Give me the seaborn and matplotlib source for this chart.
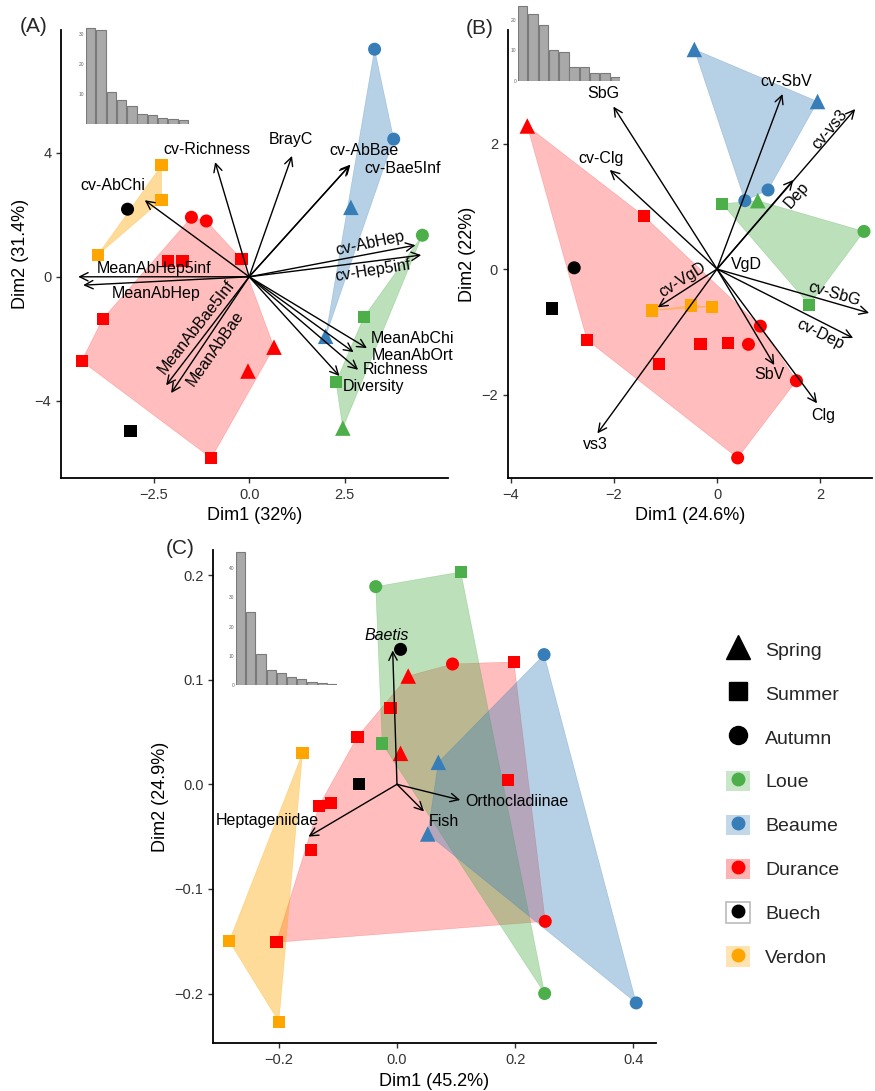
import numpy as np
import pandas as pd
import matplotlib
matplotlib.use("Agg")
import matplotlib.pyplot as plt
import seaborn as sns
from matplotlib.lines import Line2D
from matplotlib.patches import Patch
from matplotlib.colors import to_rgba

sns.set_theme(style="ticks")
plt.rcParams['font.family'] = ['Liberation Sans', 'DejaVu Sans']

# ---------------- data ----------------
sites = ['Loue', 'Beaume', 'Durance', 'Buech', 'Verdon']
seasons = ['Spring', 'Summer', 'Autumn']

# panel A
a_x = [3.28, 3.78, 2.66, 2.0,
       4.53, 3.0, 2.27, 2.45,
       -2.29, -2.29, -3.96,
       -3.18, -3.1,
       -1.51, -1.12, -2.13, -1.74, -0.2, -3.83, -4.38, -0.99, 0.65, -0.03]
a_y = [7.34, 4.44, 2.24, -1.92,
       1.34, -1.3, -3.4, -4.88,
       3.6, 2.47, 0.7,
       2.18, -4.98,
       1.92, 1.8, 0.5, 0.5, 0.57, -1.36, -2.72, -5.85, -2.27, -3.04]
a_site = ['Beaume'] * 4 + ['Loue'] * 4 + ['Verdon'] * 3 + ['Buech'] * 2 + ['Durance'] * 10
a_season = ['Autumn', 'Autumn', 'Spring', 'Spring',
            'Autumn', 'Summer', 'Summer', 'Spring',
            'Summer', 'Summer', 'Summer',
            'Autumn', 'Summer',
            'Autumn', 'Autumn', 'Summer', 'Summer', 'Summer', 'Summer', 'Summer', 'Summer',
            'Spring', 'Spring']
a_vars = ['cv-Richness', 'BrayC', 'cv-AbBae', 'cv-Bae5Inf', 'cv-AbChi', 'cv-AbHep',
          'cv-Hep5inf', 'MeanAbHep5inf', 'MeanAbHep', 'MeanAbBae5Inf', 'MeanAbBae',
          'MeanAbChi', 'MeanAbOrt', 'Richness', 'Diversity']
a_var_x = [-0.89, 1.12, 2.65, 2.62, -2.73, 4.35, 4.5, -4.47, -4.34, -2.17, -2.04,
           3.08, 2.73, 2.85, 2.36]
a_var_y = [3.7, 3.9, 3.62, 3.58, 2.47, 1.02, 0.7, 0.0, -0.27, -3.5, -3.75,
           -2.3, -2.43, -3.0, -3.2]
a_eig = [32.0, 31.4, 10.8, 8.0, 6.1, 3.2, 2.9, 1.9, 1.6, 1.2]

# panel B
b_x = [-0.44, 1.95, 0.54, 0.99,
       0.1, 0.79, 2.85, 1.79,
       -3.68, -1.41, -2.52, -0.32, 0.21, -1.12, 0.84, 0.61, 1.54, 0.4,
       -2.77, -3.2,
       -1.26, -0.5, -0.1]
b_y = [3.5, 2.67, 1.09, 1.26,
       1.04, 1.09, 0.6, -0.57,
       2.28, 0.84, -1.13, -1.19, -1.18, -1.51, -0.91, -1.2, -1.78, -3.01,
       0.02, -0.63,
       -0.66, -0.58, -0.6]
b_site = ['Beaume'] * 4 + ['Loue'] * 4 + ['Durance'] * 10 + ['Buech'] * 2 + ['Verdon'] * 3
b_season = ['Spring', 'Spring', 'Autumn', 'Autumn',
            'Summer', 'Spring', 'Autumn', 'Summer',
            'Spring', 'Summer', 'Summer', 'Summer', 'Summer', 'Summer',
            'Autumn', 'Autumn', 'Autumn', 'Autumn',
            'Autumn', 'Summer',
            'Summer', 'Summer', 'Summer']
b_vars = ['SbG', 'cv-Clg', 'cv-SbV', 'cv-vs3', 'Dep', 'cv-VgD', 'VgD', 'cv-SbG',
          'cv-Dep', 'SbV', 'Clg', 'vs3']
b_var_x = [-2.01, -2.08, 1.27, 2.68, 1.48, -1.15, 0.03, 2.95, 2.64, 1.11, 1.94, -2.32]
b_var_y = [2.59, 1.58, 2.79, 2.55, 1.42, -0.61, 0.01, -0.7, -1.1, -1.53, -2.14, -2.62]
b_eig = [24.6, 22.0, 18.4, 10.2, 9.6, 4.7, 4.6, 2.7, 2.5, 1.2]

# panel C
c_x = [-0.036, 0.108, -0.025, 0.25,
       0.249, 0.07, 0.052, 0.405,
       0.094, 0.198, 0.019, -0.011, -0.067, 0.006, 0.188, -0.132, -0.112, -0.145,
       -0.204, 0.251,
       0.006, -0.064,
       -0.16, -0.284, -0.2]
c_y = [0.189, 0.203, 0.039, -0.2,
       0.124, 0.021, -0.0475, -0.209,
       0.115, 0.117, 0.1035, 0.073, 0.0455, 0.0296, 0.004, -0.0205, -0.018, -0.063,
       -0.151, -0.131,
       0.129, 0.0,
       0.0296, -0.15, -0.227]
c_site = ['Loue'] * 4 + ['Beaume'] * 4 + ['Durance'] * 12 + ['Buech'] * 2 + ['Verdon'] * 3
c_season = ['Autumn', 'Summer', 'Summer', 'Autumn',
            'Autumn', 'Spring', 'Spring', 'Autumn',
            'Autumn', 'Summer', 'Spring', 'Summer', 'Summer', 'Spring', 'Summer',
            'Summer', 'Summer', 'Summer', 'Summer', 'Autumn',
            'Autumn', 'Summer',
            'Summer', 'Summer', 'Summer']
c_vars = ['Baetis', 'Orthocladiinae', 'Fish', 'Heptageniidae']
c_var_x = [-0.0073, 0.107, 0.0458, -0.15]
c_var_y = [0.128, -0.015, -0.026, -0.05]
c_eig = [45.2, 24.9, 10.6, 5.2, 4.1, 2.8, 2.0, 1.2, 0.9, 0.5]

# ---------------- styles / layout ----------------
site_colors = {'Loue': '#4DAF4A', 'Beaume': '#377EB8', 'Durance': '#FF0000',
               'Buech': '#000000', 'Verdon': '#FFA500'}
hull_alpha = {'Loue': 0.38, 'Beaume': 0.36, 'Durance': 0.26, 'Verdon': 0.4}
season_markers = {'Spring': '^', 'Summer': 's', 'Autumn': 'o'}
season_sizes = {'Spring': 125, 'Summer': 78, 'Autumn': 88}
hull_order = ['Durance', 'Loue', 'Beaume', 'Verdon']

# label offsets from arrow tips (pixels) and rotation
a_lab = {'cv-Richness': (-8, 13, 0), 'BrayC': (-1, 16, 0), 'cv-AbBae': (14, 14, 0),
         'cv-Bae5Inf': (53, -3, 0), 'cv-AbChi': (-32, 15, 0), 'cv-AbHep': (-45, 2, 12),
         'cv-Hep5inf': (-48, -16, 9), 'MeanAbHep5inf': (76, 8, 0), 'MeanAbHep': (73, -8, 0),
         'MeanAbBae5Inf': (30, 58, 52), 'MeanAbBae': (44, 45, 55), 'MeanAbChi': (46, 10, 0),
         'MeanAbOrt': (59, -3, 0), 'Richness': (37, 0, 0), 'Diversity': (34, -11, 0)}
b_lab = {'SbG': (-10, 13, 0), 'cv-Clg': (-9, 11, 0), 'cv-SbV': (4, 12, 0),
         'cv-vs3': (-25, -20, 50), 'Dep': (3, -15, 49), 'cv-VgD': (25, 28, 32),
         'VgD': (28, 4, 0), 'cv-SbG': (-35, 19, -16), 'cv-Dep': (-33, 4, -26),
         'SbV': (-5, -9, 0), 'Clg': (6, -12, 0), 'vs3': (-2, -11, 0)}
c_lab = {'Baetis': (-6, 15, 0), 'Orthocladiinae': (57, -2, 0), 'Fish': (20, -10, 0),
         'Heptageniidae': (-41, 16, 0)}

W, H = 875, 1091


def rect(l, t, w, h):
    return [l / W, 1 - (t + h) / H, w / W, h / H]


def convex_hull(pts):
    pts = sorted(set(pts))
    if len(pts) < 3:
        return pts

    def cross(o, a, b):
        return (a[0] - o[0]) * (b[1] - o[1]) - (a[1] - o[1]) * (b[0] - o[0])
    lower, upper = [], []
    for p in pts:
        while len(lower) >= 2 and cross(lower[-2], lower[-1], p) <= 0:
            lower.pop()
        lower.append(p)
    for p in reversed(pts):
        while len(upper) >= 2 and cross(upper[-2], upper[-1], p) <= 0:
            upper.pop()
        upper.append(p)
    return lower[:-1] + upper[:-1]


def biplot(ax, xs, ys, site, season, vars_, vx, vy, labs, italic=()):
    df = pd.DataFrame({'x': xs, 'y': ys, 'site': site, 'season': season})
    for s in hull_order:
        sub = df[df.site == s]
        hull = convex_hull(list(zip(sub.x, sub.y)))
        if len(hull) >= 3:
            hx, hy = zip(*hull)
            fc = to_rgba(site_colors[s], hull_alpha[s])
            ax.fill(hx, hy, facecolor=fc, edgecolor=fc, lw=0.4, zorder=1)
    sns.scatterplot(data=df, x='x', y='y', hue='site', palette=site_colors,
                    style='season', markers=season_markers, size='season',
                    sizes=season_sizes, linewidth=0, legend=False, ax=ax, zorder=3)
    span = ax.get_xlim()[1] - ax.get_xlim()[0]
    for name, tx, ty in zip(vars_, vx, vy):
        if np.hypot(tx, ty) > 0.02 * span:
            ax.annotate('', xy=(tx, ty), xytext=(0, 0),
                        arrowprops=dict(arrowstyle='->,head_length=0.5,head_width=0.25',
                                        lw=1.0, color='black', shrinkA=0, shrinkB=0,
                                        mutation_scale=12), zorder=4)
        dx, dy, rot = labs[name]
        ax.annotate(name, xy=(tx, ty), xytext=(dx, dy), textcoords='offset pixels',
                    ha='center', va='center', rotation=rot, rotation_mode='anchor',
                    fontsize=11.5, color='black', zorder=5,
                    style='italic' if name in italic else 'normal')


def style_axes(ax, xlim, ylim, xticks, yticks, xlabel, ylabel):
    ax.set_xlim(*xlim)
    ax.set_ylim(*ylim)
    ax.set_xticks(xticks)
    ax.set_yticks(yticks)
    ax.set_xlabel(xlabel, fontsize=13, color='black')
    ax.set_ylabel(ylabel, fontsize=13, color='black')
    ax.tick_params(labelsize=10.5, colors='#333333', length=3.5, width=1)
    for sp in ['top', 'right']:
        ax.spines[sp].set_visible(False)
    for sp in ['left', 'bottom']:
        ax.spines[sp].set_linewidth(1.3)
        ax.spines[sp].set_color('black')


def inset(fig, r, eig, ylim, yticks):
    axi = fig.add_axes(r)
    sns.barplot(x=list(range(1, len(eig) + 1)), y=eig, color='#A9A9A9',
                edgecolor='#7A7A7A', linewidth=0.8, saturation=1, width=0.92, ax=axi)
    axi.set_xlim(-0.5, len(eig) - 0.5)
    axi.set_ylim(*ylim)
    axi.set_yticks(yticks)
    axi.set_yticklabels([str(t) for t in yticks])
    axi.set_xticks([])
    axi.set_xlabel('')
    axi.set_ylabel('')
    axi.tick_params(axis='y', labelsize=3.5, colors='#666666', length=0, pad=1)
    axi.patch.set_alpha(0)
    for sp in axi.spines.values():
        sp.set_visible(False)


fig = plt.figure(figsize=(W / 100, H / 100), dpi=100)

axA = fig.add_axes(rect(61, 30, 387, 448))
style_axes(axA, (-4.92, 5.2), (-6.49, 7.96), [-2.5, 0, 2.5], [-4, 0, 4],
           'Dim1 (32%)', 'Dim2 (31.4%)')
axA.set_xticklabels(['\u22122.5', '0.0', '2.5'])
biplot(axA, a_x, a_y, a_site, a_season, a_vars, a_var_x, a_var_y, a_lab)

axB = fig.add_axes(rect(507.7, 30, 364, 448))
style_axes(axB, (-4.06, 3.0), (-3.33, 3.81), [-4, -2, 0, 2], [-2, 0, 2],
           'Dim1 (24.6%)', 'Dim2 (22%)')
biplot(axB, b_x, b_y, b_site, b_season, b_vars, b_var_x, b_var_y, b_lab)

axC = fig.add_axes(rect(213.3, 550, 442.4, 493.3))
style_axes(axC, (-0.311, 0.438), (-0.2476, 0.224), [-0.2, 0.0, 0.2, 0.4],
           [-0.2, -0.1, 0.0, 0.1, 0.2], 'Dim1 (45.2%)', 'Dim2 (24.9%)')
biplot(axC, c_x, c_y, c_site, c_season, c_vars, c_var_x, c_var_y, c_lab,
       italic=('Baetis',))

inset(fig, rect(85.5, 25, 103, 99), a_eig, (0, 33), [10, 20, 30])
inset(fig, rect(517.5, 3.2, 103, 77.8), b_eig, (0, 25.5), [0, 10, 20])
inset(fig, rect(235.5, 548.6, 102, 136.7), c_eig, (0, 46.5), [0, 10, 20, 30, 40])

fig.text(34 / W, 1 - 26 / H, '(A)', fontsize=15, ha='center', va='center')
fig.text(480 / W, 1 - 28 / H, '(B)', fontsize=15, ha='center', va='center')
fig.text(180 / W, 1 - 548 / H, '(C)', fontsize=15, ha='center', va='center')

# legend
handles = [Line2D([], [], marker='^', color='black', linestyle='None', markersize=17),
           Line2D([], [], marker='s', color='black', linestyle='None', markersize=13),
           Line2D([], [], marker='o', color='black', linestyle='None', markersize=13)]
for s in sites:
    if s == 'Buech':
        patch = Patch(facecolor='white', edgecolor='#BBBBBB', linewidth=1.2)
    else:
        patch = Patch(facecolor=to_rgba(site_colors[s], 0.3), edgecolor='none')
    dot = Line2D([], [], marker='o', color=site_colors[s], linestyle='None', markersize=9)
    handles.append((patch, dot))
fig.legend(handles, seasons + sites, loc='upper left',
           bbox_to_anchor=(726 / W, 1 - 639 / H), frameon=False, fontsize=14,
           handlelength=1.24, handleheight=1.24, handletextpad=0.77,
           labelspacing=1.19, borderpad=0, borderaxespad=0)

fig.savefig('out.png', dpi=100)
